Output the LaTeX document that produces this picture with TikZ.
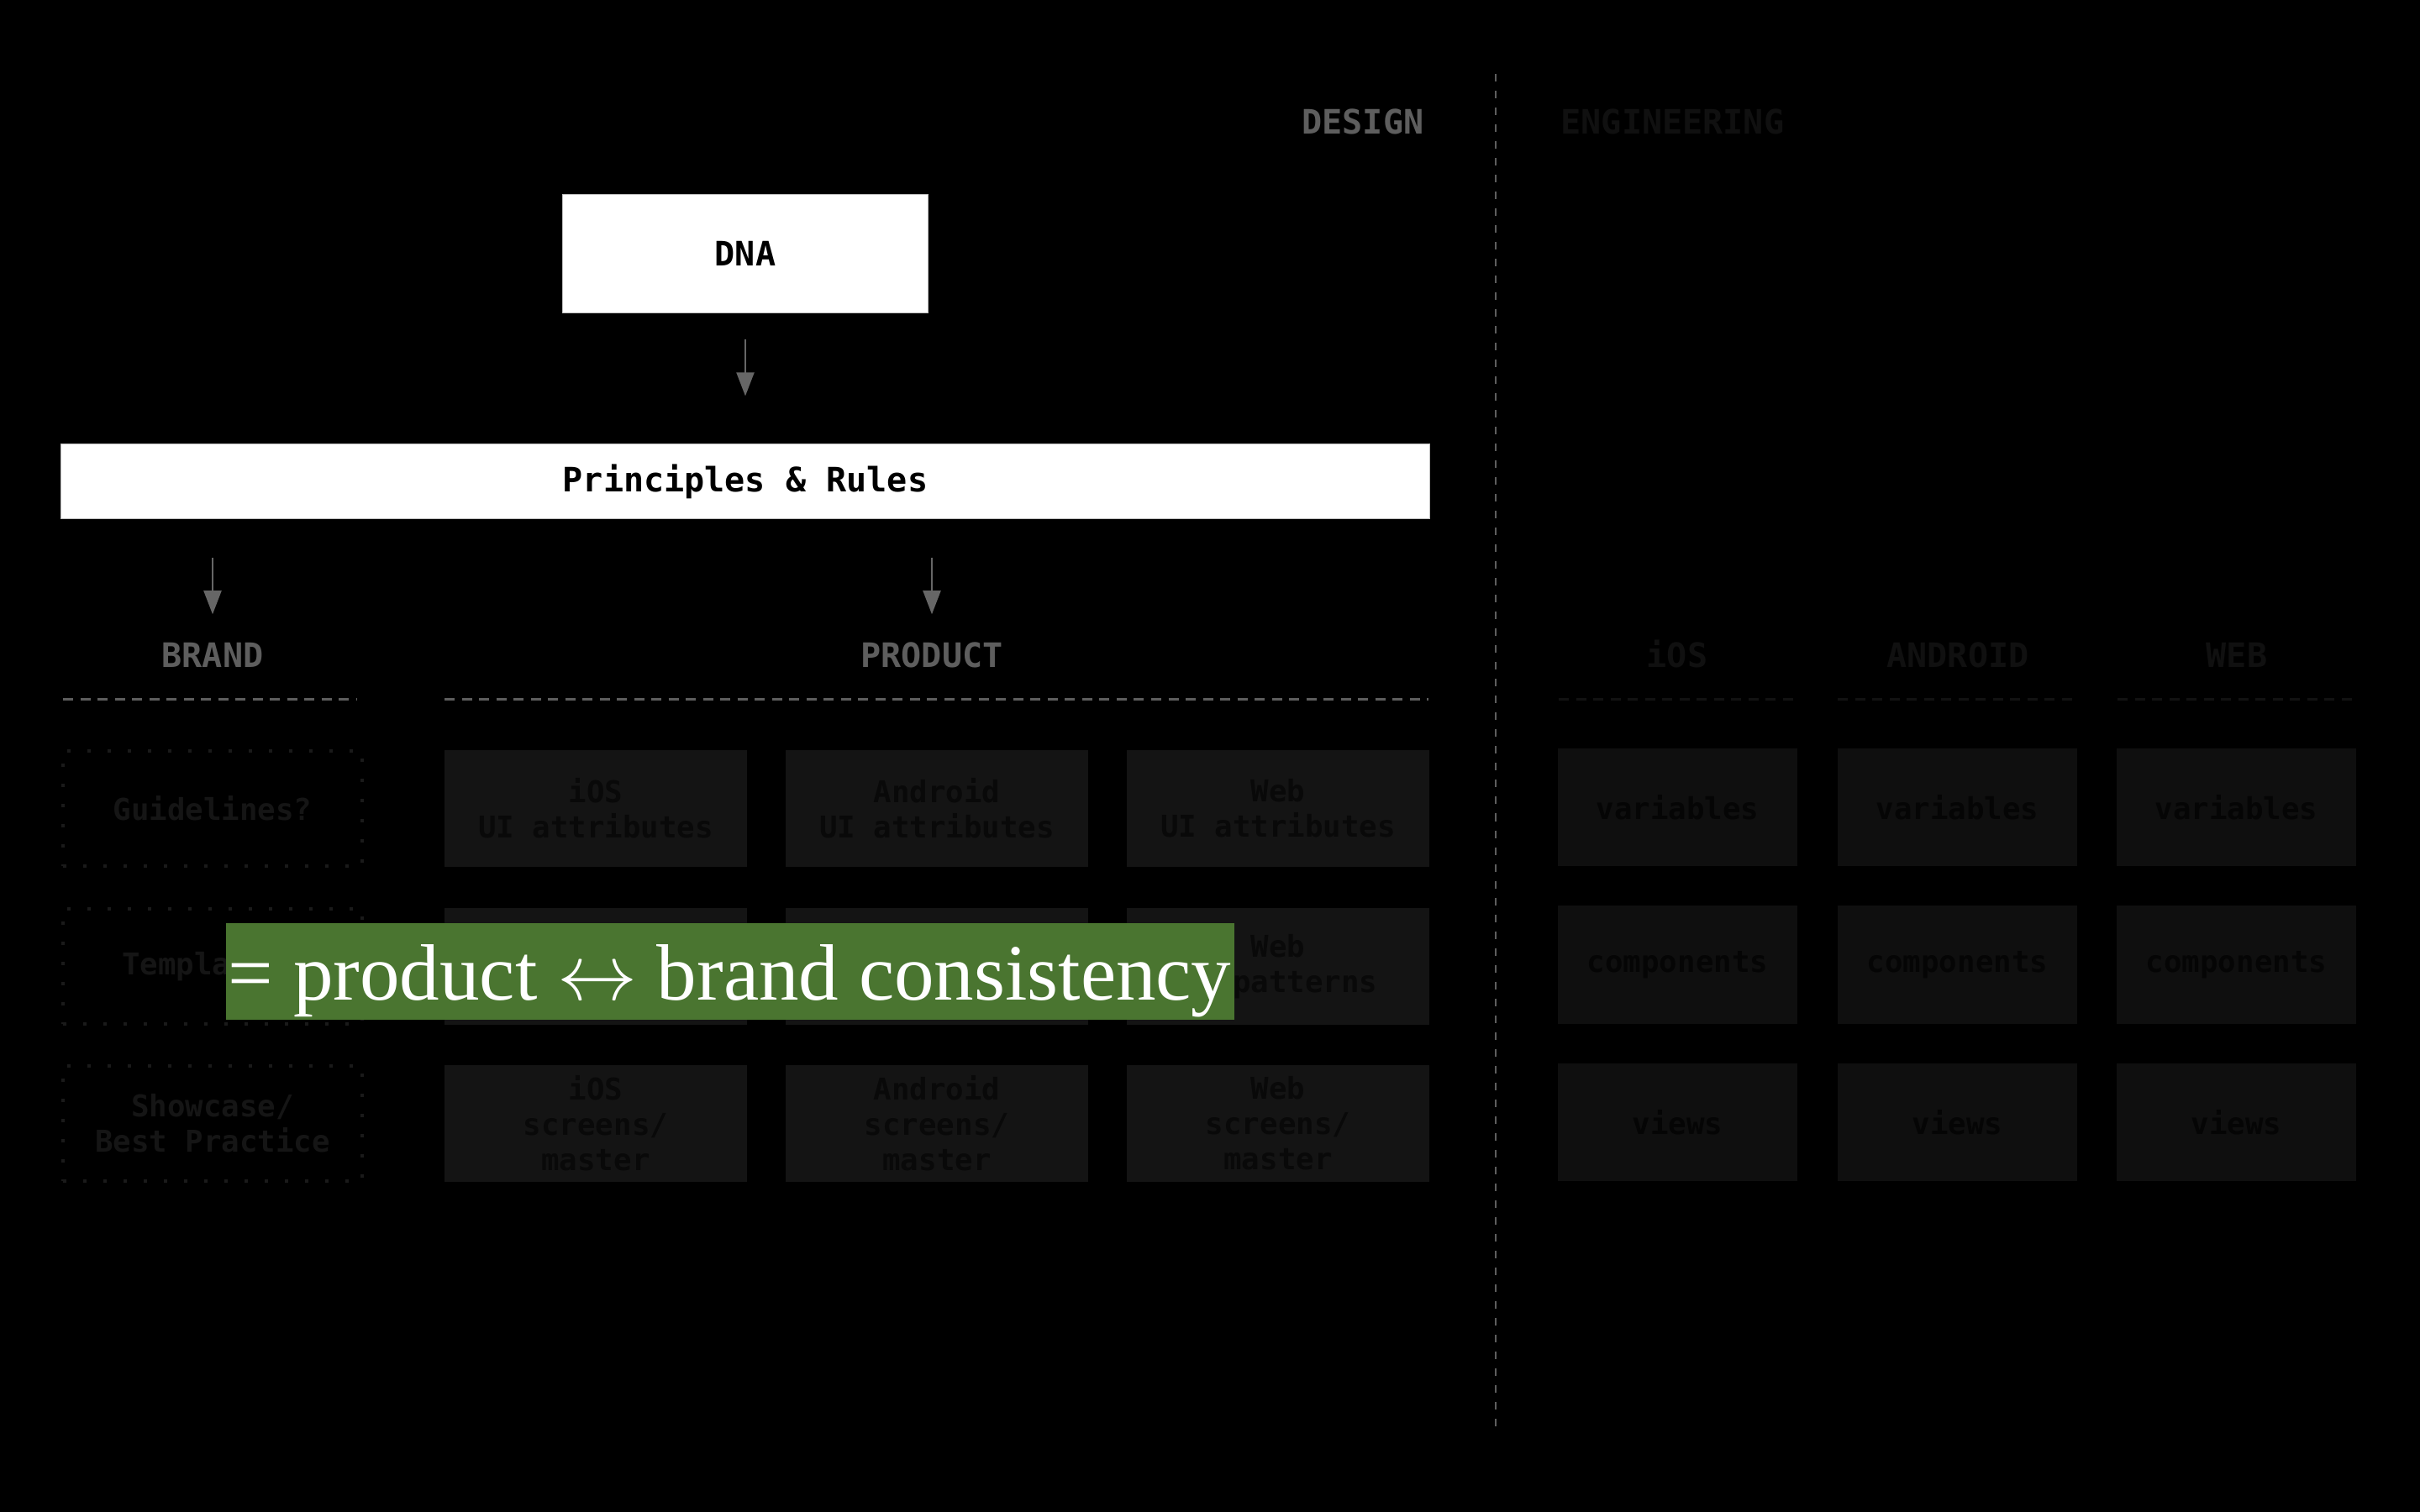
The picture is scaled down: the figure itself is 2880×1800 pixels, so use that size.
\documentclass[tikz,border=0pt]{standalone}
\usepackage{fontspec}
\usepackage{graphicx}
\setmonofont{DejaVu Sans Mono}
\newfontfamily\gserif{Liberation Serif}
\usetikzlibrary{arrows.meta}
\definecolor{labc}{HTML}{5E5E5E}
\definecolor{arrc}{HTML}{666666}
\definecolor{pfill}{HTML}{141414}
\definecolor{ptext}{HTML}{090909}
\definecolor{dotc}{HTML}{1A1A1A}
\definecolor{btext}{HTML}{151515}
\definecolor{efill}{HTML}{0F0F0F}
\definecolor{etext}{HTML}{050505}
\definecolor{elab}{HTML}{101010}
\definecolor{edash}{HTML}{121212}
\definecolor{greenc}{HTML}{4A7530}
\begin{document}
\begin{tikzpicture}[x=0.01cm,y=-0.01cm,
  labfont/.style={font=\ttfamily\bfseries\fontsize{11.4}{13}\selectfont},
  boxfont/.style={font=\ttfamily\bfseries\fontsize{10.16}{11.95}\selectfont},
  toplab/.style={labfont, text=labc, inner sep=0},
  englab/.style={labfont, text=elab, inner sep=0},
  whitebox/.style={rectangle, fill=white, draw=white!75!black, line width=0.01cm, labfont, text=black, inner sep=0},
  pbox/.style={rectangle, fill=pfill, text=ptext, minimum width=3.6cm, minimum height=1.39cm, inner sep=0, align=center, boxfont},
  bbox/.style={rectangle, draw=dotc, line width=0.04cm, dash pattern=on 0.04cm off 0.2cm, text=btext, minimum width=3.56cm, minimum height=1.37cm, inner sep=0, align=center, boxfont},
  ebox/.style={rectangle, fill=efill, text=etext, minimum width=2.84cm, minimum height=1.40cm, inner sep=0, align=center, boxfont},
  arr/.style={draw=arrc, line width=0.02cm, -{Triangle[length=0.28cm,width=0.21cm]}, arrc},
  seclinegray/.style={draw=labc, line width=0.03cm, dash pattern=on 0.12cm off 0.085cm},
  seclinedark/.style={draw=edash, line width=0.03cm, dash pattern=on 0.12cm off 0.085cm},
]
% background
\fill[black] (0,0) rectangle (2880,1800);
\useasboundingbox (0,0) rectangle (2880,1800);

% headers
\node[toplab, anchor=base east] (design) at (1695,160) {DESIGN};
\node[englab, anchor=base west] (engin) at (1857,160) {ENGINEERING};

% divider
\coordinate (divtop) at (1780,88);
\coordinate (divbot) at (1780,1708);
\draw[draw=labc, line width=0.027cm, dash pattern=on 0.09cm off 0.11cm] (divtop) -- (divbot);

% DNA and principles
\node[whitebox, minimum width=4.34cm, minimum height=1.40cm] (dna) at (887,302) {DNA};
\node[whitebox, minimum width=16.28cm, minimum height=0.88cm] (pr) at (887,573) {Principles \& Rules};
\draw[arr, shorten <=0.31cm, shorten >=0.57cm] (dna.south) -- (dna.south |- pr.north);

% section labels
\node[toplab, anchor=base, text height=0.29cm, text depth=0cm] (brand) at (253,794) {BRAND};
\node[toplab, anchor=base, text height=0.29cm, text depth=0cm] (product) at (1109,794) {PRODUCT};
\draw[arr, shorten <=0.46cm, shorten >=0.33cm] (pr.south -| brand.north) -- (brand.north);
\draw[arr, shorten <=0.46cm, shorten >=0.33cm] (pr.south -| product.north) -- (product.north);

\draw[seclinegray] (75,832) -- (424,832);
\draw[seclinegray] (529,832) -- (1700,832);

% engineering labels
\node[englab, anchor=base] (ios) at (1996,794) {iOS};
\node[englab, anchor=base] (android) at (2330,794) {ANDROID};
\node[englab, anchor=base] (web) at (2662,794) {WEB};
\draw[seclinedark] (1855,832) -- (2138,832);
\draw[seclinedark] (2187,832) -- (2472,832);
\draw[seclinedark] (2520,832) -- (2803,832);

% brand column
\node[bbox] (b1) at (253,962.5) {Guidelines?};
\node[bbox] (b2) at (253,1150.5) {Templates?};
\node[bbox] (b3) at (253,1337.5) {Showcase/\\Best Practice};

% product grid
\node[pbox] (p11) at (709,962.5) {iOS\\UI attributes};
\node[pbox] (p12) at (1115,962.5) {Android\\UI attributes};
\node[pbox] (p13) at (1521,962.5) {Web\\UI attributes};
\node[pbox] (p21) at (709,1150.5) {};
\node[pbox] (p22) at (1115,1150.5) {};
\node[pbox] (p23) at (1521,1150.5) {Web\\UI patterns};
\node[pbox] (p31) at (709,1337.5) {iOS\\screens/\\master};
\node[pbox] (p32) at (1115,1337.5) {Android\\screens/\\master};
\node[pbox] (p33) at (1521,1337.5) {Web\\screens/\\master};

% engineering grid
\node[ebox] (e11) at (1996.5,961) {variables};
\node[ebox] (e12) at (2329.5,961) {variables};
\node[ebox] (e13) at (2661.5,961) {variables};
\node[ebox] (e21) at (1996.5,1148.5) {components};
\node[ebox] (e22) at (2329.5,1148.5) {components};
\node[ebox] (e23) at (2661.5,1148.5) {components};
\node[ebox] (e31) at (1996.5,1336) {views};
\node[ebox] (e32) at (2329.5,1336) {views};
\node[ebox] (e33) at (2661.5,1336) {views};

% green overlay
\node[rectangle, fill=greenc, minimum width=12.0cm, minimum height=1.15cm, inner sep=0] (green) at (869,1156.5) {};
\node[anchor=base west, inner sep=0, text=white] (consist) at (271,1190)
  {\resizebox{11.93cm}{!}{\gserif = product $\leftrightarrow$ brand consistency}};
\end{tikzpicture}
\end{document}
